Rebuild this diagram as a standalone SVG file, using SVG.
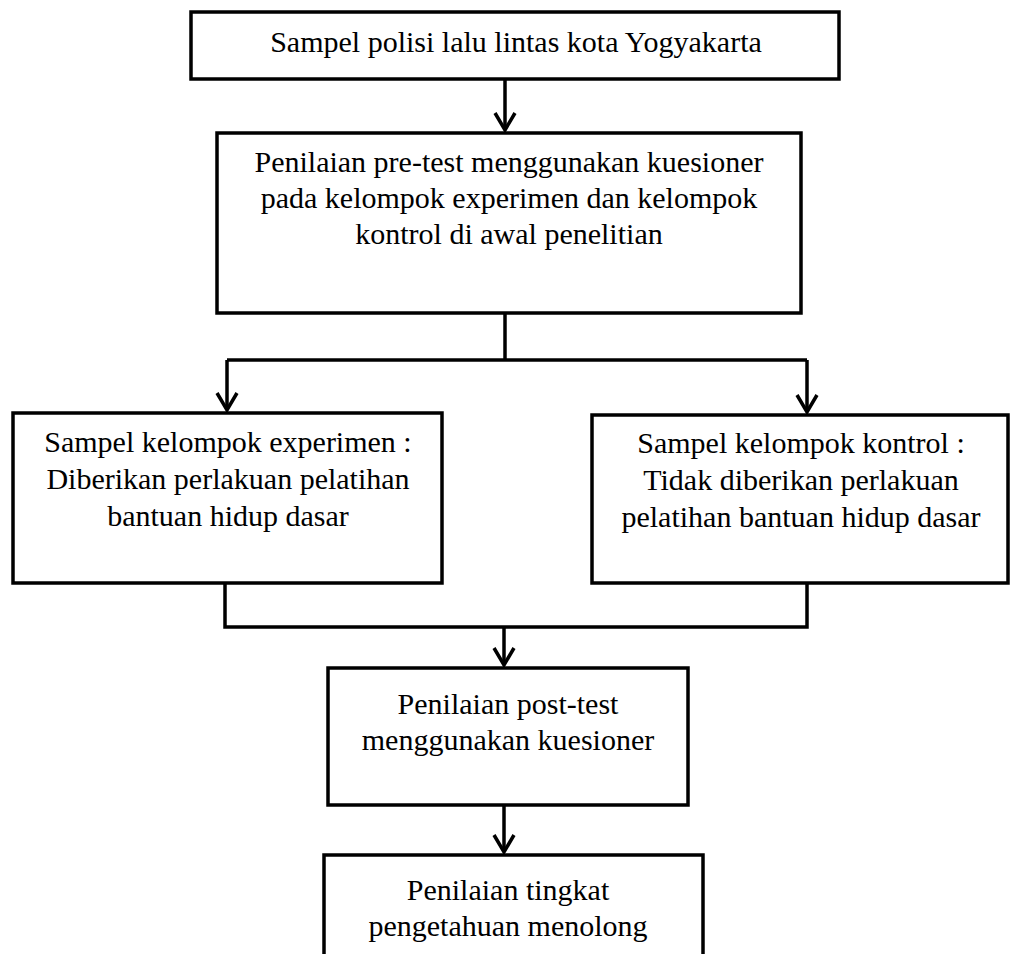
<svg xmlns="http://www.w3.org/2000/svg" width="1011" height="954" viewBox="0 0 1011 954">
<style>
.box{fill:#fff;stroke:#000;stroke-width:3.5}
.t{font-family:"Liberation Serif","Times New Roman",serif;font-size:30px;fill:#000;text-anchor:middle}
.c{fill:none;stroke:#000;stroke-width:3.5}
</style>
<defs>
<marker id="ah" viewBox="0 0 20 24" refX="18" refY="12" markerWidth="20" markerHeight="24" markerUnits="userSpaceOnUse" orient="auto">
<path d="M1,2 L18,12 L1,22" fill="none" stroke="#000" stroke-width="3.5"/>
</marker>
</defs>
<rect width="1011" height="954" fill="#fff"/>
<g id="connectors">
<path class="c" d="M505,79 V130" marker-end="url(#ah)"/>
<path class="c" d="M505,313 V360"/>
<path class="c" d="M227,360 H807"/>
<path class="c" d="M227,360 V410" marker-end="url(#ah)"/>
<path class="c" d="M807,360 V412" marker-end="url(#ah)"/>
<path class="c" d="M225,583 V627 H807 V583"/>
<path class="c" d="M504,627 V665" marker-end="url(#ah)"/>
<path class="c" d="M504,805 V852" marker-end="url(#ah)"/>
</g>
<g id="n1">
<rect class="box" x="191" y="12" width="648" height="67"/>
<text class="t" x="516" y="52">Sampel polisi lalu lintas kota Yogyakarta</text>
</g>
<g id="n2">
<rect class="box" x="217" y="133" width="584" height="180"/>
<text class="t" x="509" y="172">Penilaian pre-test menggunakan kuesioner</text>
<text class="t" x="509" y="208">pada kelompok experimen dan kelompok</text>
<text class="t" x="509" y="244">kontrol di awal penelitian</text>
</g>
<g id="n3">
<rect class="box" x="13" y="413" width="429" height="170"/>
<text class="t" x="228" y="452">Sampel kelompok experimen :</text>
<text class="t" x="228" y="489">Diberikan perlakuan pelatihan</text>
<text class="t" x="228" y="526">bantuan hidup dasar</text>
</g>
<g id="n4">
<rect class="box" x="592" y="415" width="416" height="168"/>
<text class="t" x="801" y="453">Sampel kelompok kontrol :</text>
<text class="t" x="801" y="490">Tidak diberikan perlakuan</text>
<text class="t" x="801" y="527">pelatihan bantuan hidup dasar</text>
</g>
<g id="n5">
<rect class="box" x="328" y="668" width="360" height="137"/>
<text class="t" x="508" y="714">Penilaian post-test</text>
<text class="t" x="508" y="750">menggunakan kuesioner</text>
</g>
<g id="n6">
<rect class="box" x="324" y="855" width="379" height="120"/>
<text class="t" x="508" y="900">Penilaian tingkat</text>
<text class="t" x="508" y="936">pengetahuan menolong</text>
</g>
</svg>
